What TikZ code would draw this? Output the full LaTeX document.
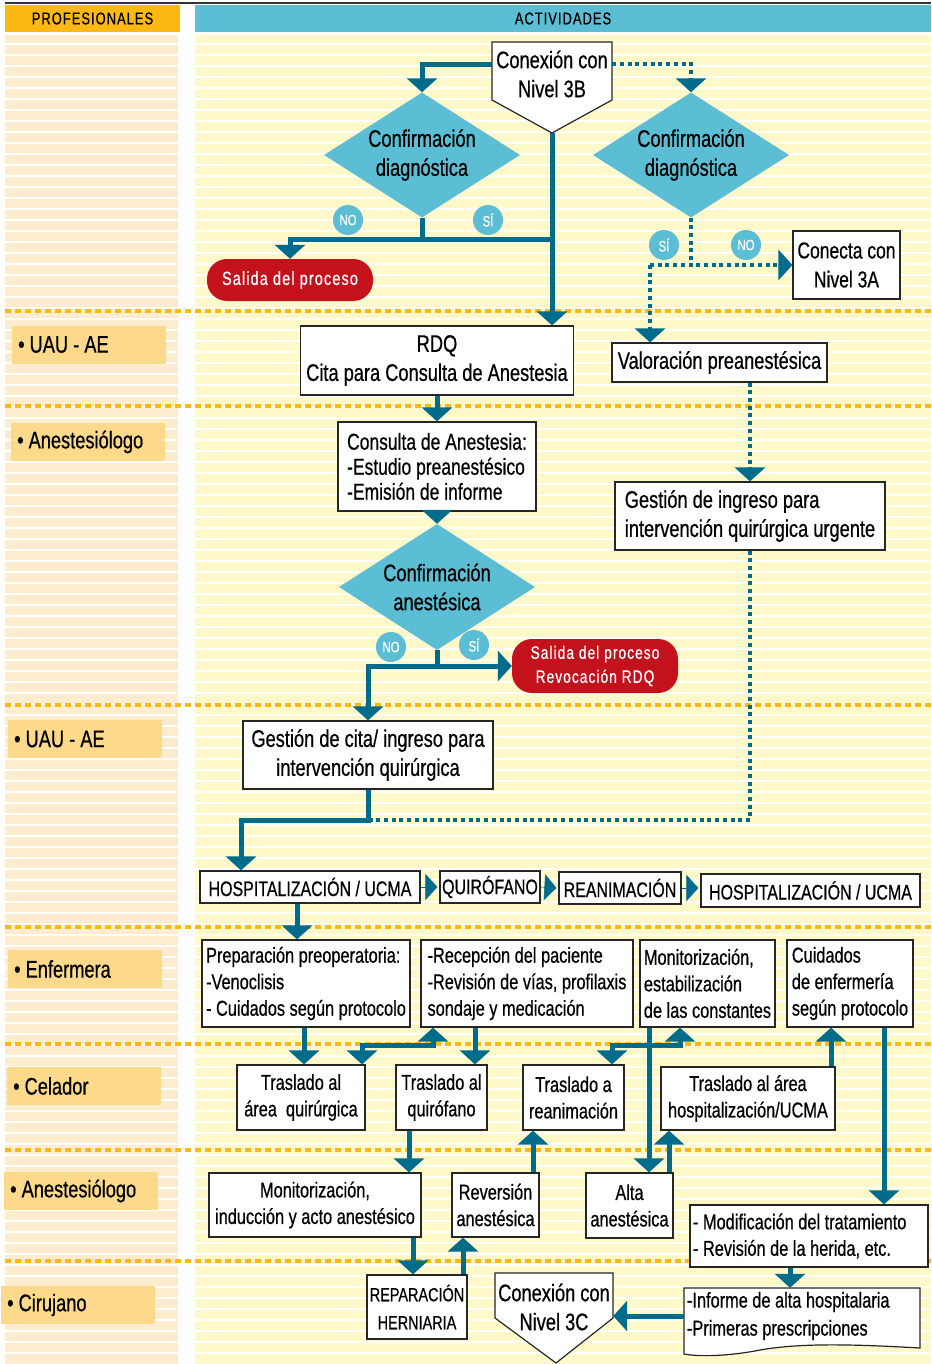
\documentclass[tikz,border=0pt]{standalone}
\usepackage{fontspec}
\setmainfont[FakeStretch=0.76,FakeBold=0.6]{Liberation Sans}
\newfontfamily\spacedfont[FakeStretch=0.76,FakeBold=0.6,LetterSpace=6]{Liberation Sans}
\usetikzlibrary{arrows.meta,shapes.geometric,positioning,calc}

\definecolor{flowteal}{RGB}{0,108,140}
\definecolor{decisioncyan}{RGB}{91,190,213}
\definecolor{exitred}{RGB}{196,18,28}
\definecolor{headgold}{RGB}{253,185,19}
\definecolor{headcyan}{RGB}{91,190,213}
\definecolor{lanepeach}{RGB}{253,236,206}
\definecolor{laneyellow}{RGB}{255,248,200}
\definecolor{rolefill}{RGB}{253,217,140}

\newcommand{\boxfont}{\fontsize{24}{29}\selectfont}
\newcommand{\listfont}{\fontsize{21.5}{26.5}\selectfont}
\newcommand{\rowfont}{\fontsize{21}{25}\selectfont}
\newcommand{\answerfont}{\fontsize{15}{15}\selectfont}
\newcommand{\exitfont}{\spacedfont\fontsize{19}{24}\selectfont}
\newcommand{\laneheadfont}{\spacedfont\fontsize{17}{17}\selectfont}
\newcommand{\rolefont}{\fontsize{24}{24}\selectfont}
\newcommand{\rolelabel}[3]{%
  \node[role] (#1) at (#2) {\textbullet\ #3};
}

\tikzset{
  flowtip/.tip={Triangle[width=30pt,length=14pt]},
  box/.style={draw=black!85, line width=1.2pt, fill=white, inner sep=3pt,
              align=center, font=\boxfont},
  listbox/.style={box, align=flush left, font=\listfont},
  rowbox/.style={box, inner xsep=1pt, minimum height=32pt, font=\rowfont},
  shape line/.style={draw=black!85, line width=1.2pt, fill=white},
  connector text/.style={inner sep=0pt, align=center, font=\boxfont},
  decision/.style={diamond, aspect=1.6, fill=decisioncyan, inner sep=0pt,
                   minimum width=196pt, minimum height=125pt, align=center,
                   font=\boxfont},
  answer/.style={circle, fill=decisioncyan, text=white, minimum size=30pt,
                 inner sep=0pt, font=\answerfont},
  exitbox/.style={fill=exitred, text=white, rounded corners=20pt,
                  minimum width=166pt, align=center, font=\exitfont},
  flow/.style={draw=flowteal, line width=5pt, -flowtip},
  twoway/.style={flow, flowtip-flowtip},
  trunk/.style={draw=flowteal, line width=5pt},
  dotted flow/.style={flow, line width=4pt, dash pattern=on 4pt off 3.7pt},
  dotted trunk/.style={trunk, line width=4pt, dash pattern=on 4pt off 3.7pt},
  row tip/.style={draw=flowteal, line width=0.6pt,
                  -{Triangle[width=26pt,length=12pt]}, shorten >=2pt},
  lanesep/.style={draw=headgold, line width=4.5pt, dash pattern=on 5.5pt off 4.5pt},
  stripe/.style={draw=white, line width=1.6pt},
  headcell/.style={minimum height=27pt, inner sep=0pt, font=\laneheadfont},
  role/.style={fill=rolefill, anchor=west, minimum height=38pt, inner xsep=6pt,
               text width=142pt, align=flush left, font=\rolefont}
}

\begin{document}
\begin{tikzpicture}[x=1pt,y=-1pt]
  \useasboundingbox (0,0) rectangle (931,1364);
  \fill[white] (0,0) rectangle (931,1364);

  % lanes
  \draw[black!80,line width=2.5pt] (5,3) -- (931,3);
  \node[headcell,fill=headgold,minimum width=175pt] (profhead) at (92.5,18.5) {PROFESIONALES};
  \node[headcell,fill=headcyan,minimum width=736pt] (acthead) at (563,18.5) {ACTIVIDADES};
  \fill[lanepeach] (5,35) rectangle (178,1364);
  \fill[laneyellow] (195,35) rectangle (931,1364);
  \foreach \y in {44,55,...,1363} {
    \draw[stripe] (5,\y) -- (178,\y);
    \draw[stripe] (195,\y) -- (931,\y);
  }
  \foreach \y in {311,406,705,927,1044,1150,1261}
    \draw[lanesep] (5,\y) -- (931,\y);

  \rolelabel{uauA}{12,344.5}{UAU - AE}
  \rolelabel{anestA}{11,442}{Anestesiólogo}
  \rolelabel{uauB}{8,739}{UAU - AE}
  \rolelabel{enfer}{8,969}{Enfermera}
  \rolelabel{celad}{7,1086}{Celador}
  \rolelabel{anestB}{4,1191}{Anestesiólogo}
  \rolelabel{ciruj}{1,1305}{Cirujano}

  % nodes
  \filldraw[shape line] (492,42) -- (612,42) -- (612,100) -- (552,133) -- (492,100) -- cycle;
  \node[connector text, minimum width=120pt, minimum height=64pt] (n3b) at (552,74) {Conexión con\\Nivel 3B};
  \coordinate (n3btip) at (552,133);

  \node[decision] (diagA) at (422,155) {Confirmación\\diagnóstica};
  \node[decision] (diagB) at (691,155) {Confirmación\\diagnóstica};
  \node[answer] (noA) at (348,220) {NO};
  \node[answer] (siA) at (488,220) {SÍ};
  \node[answer] (siB) at (664,245) {SÍ};
  \node[answer] (noB) at (746,245) {NO};
  \node[exitbox, minimum height=42pt] (exit1) at (290,280) {Salida del proceso};
  \node[box, inner sep=2pt, font=\fontsize{23}{29}\selectfont, minimum width=107pt, minimum height=68pt] (n3a) at (846.5,265) {Conecta con\\Nivel 3A};

  \node[box, minimum width=273pt, minimum height=69pt] (rdq) at (437,360.5) {RDQ\\Cita para Consulta de Anestesia};
  \node[box, minimum width=215pt, minimum height=39pt] (valor) at (719.5,362.5) {Valoración preanestésica};
  \node[box, align=flush left, font=\fontsize{23}{25}\selectfont, minimum width=198pt, minimum height=89pt] (consulta) at (437,466.5)
    {Consulta de Anestesia:\\-Estudio preanestésico\\-Emisión de informe};
  \node[box, align=flush left, minimum width=270pt, minimum height=68pt] (ingreso) at (750,516)
    {Gestión de ingreso para\\intervención quirúrgica urgente};

  \node[decision, minimum height=126pt] (diagC) at (437,587) {Confirmación\\anestésica};
  \node[answer] (noC) at (391,647) {NO};
  \node[answer] (siC) at (474,645) {SÍ};
  \node[exitbox, font=\spacedfont\fontsize{18}{24}\selectfont, minimum height=54pt] (exit2) at (595,666)
    {Salida del proceso\\Revocación RDQ};

  \node[box, minimum width=250pt, minimum height=68pt] (citabox) at (368,755)
    {Gestión de cita/ ingreso para\\intervención quirúrgica};

  \node[rowbox, minimum width=220pt] (hosp1) at (310,887) {HOSPITALIZACIÓN / UCMA};
  \node[rowbox, minimum width=100pt] (quir) at (490,887) {QUIRÓFANO};
  \node[rowbox, minimum width=122pt] (reanim) at (620,888) {REANIMACIÓN};
  \node[rowbox, minimum width=219pt, minimum height=33pt] (hosp2) at (810.5,890.5) {HOSPITALIZACIÓN / UCMA};

  \node[listbox, inner xsep=2pt, minimum width=208pt, minimum height=87pt] (prep) at (306,983.5)
    {Preparación preoperatoria:\\-Venoclisis\\- Cuidados según protocolo};
  \node[listbox, inner xsep=2pt, minimum width=212pt, minimum height=87pt] (recep) at (527,983.5)
    {-Recepción del paciente\\-Revisión de vías, profilaxis\\sondaje y medicación};
  \node[listbox, inner xsep=2pt, minimum width=135pt, minimum height=87pt] (monit) at (707.5,983.5)
    {Monitorización,\\estabilización\\de las constantes};
  \node[listbox, inner xsep=2pt, minimum width=126pt, minimum height=87pt] (cuid) at (850,983.5)
    {Cuidados\\de enfermería\\según protocolo};

  \node[box, font=\listfont, minimum width=128pt, minimum height=65pt] (tras1) at (301,1097.5) {Traslado al\\área\ \ quirúrgica};
  \node[box, font=\listfont, minimum width=91pt, minimum height=65pt] (tras2) at (441.5,1097.5) {Traslado al\\quirófano};
  \node[box, font=\listfont, minimum width=101pt, minimum height=65pt] (tras3) at (573.5,1097.5) {Traslado a\\reanimación};
  \node[box, font=\listfont, minimum width=174pt, minimum height=63pt] (tras4) at (748,1098.5) {Traslado al área\\hospitalización/UCMA};

  \node[box, font=\listfont, minimum width=212pt, minimum height=64pt] (induc) at (315,1205) {Monitorización,\\inducción y acto anestésico};
  \node[box, font=\listfont, minimum width=87pt, minimum height=64pt] (rever) at (495.5,1205) {Reversión\\anestésica};
  \node[box, font=\listfont, minimum width=87pt, minimum height=65pt] (alta) at (629.5,1205.5) {Alta\\anestésica};
  \node[listbox, text width=232pt, minimum height=62pt] (modif) at (809,1236)
    {- Modificación del tratamiento\\- Revisión de la herida, etc.};

  \node[box, inner xsep=1pt, font=\fontsize{19}{28}\selectfont, minimum width=100pt, minimum height=64pt] (repar) at (417,1307) {REPARACIÓN\\HERNIARIA};
  \filldraw[shape line] (495,1273) -- (613,1273) -- (613,1318) -- (556,1363) -- (495,1318) -- cycle;
  \node[connector text, minimum width=118pt, minimum height=68pt] (n3c) at (554,1307) {Conexión con\\Nivel 3C};
  \filldraw[shape line] (684,1288) -- (920,1288) -- (920,1348)
    .. controls (850,1344) and (800,1343) .. (760,1350)
    .. controls (730,1356) and (700,1357) .. (684,1354) -- cycle;
  \node[inner sep=3pt, align=flush left, font=\fontsize{21.5}{28}\selectfont, text width=230pt, minimum height=56pt] (informe) at (802,1316)
    {-Informe de alta hospitalaria\\-Primeras prescripciones};

  % connectors
  \draw[flow] (n3b.west |- 0,65) -| (diagA.north);
  \draw[dotted flow] (n3b.east |- 0,64) -| (diagB.north);
  \draw[flow] (n3btip) -- (n3btip |- rdq.north);
  \coordinate (joinA) at (552,240);
  \draw[trunk] (diagA.south) -- (diagA.south |- joinA);
  \draw[flow] (joinA) -| (exit1.north);
  \coordinate (splitB) at (650,265);
  \draw[dotted trunk] (diagB.south) -- (diagB.south |- splitB);
  \draw[dotted flow] (splitB) -- (n3a.west);
  \draw[dotted flow] (splitB) -- (splitB |- valor.north);

  \draw[flow] (rdq.south) -- (consulta.north);
  \draw[flow] (consulta.south) -- (diagC.north);
  \coordinate (joinC) at (437,666);
  \draw[trunk] (diagC.south) -- (joinC);
  \draw[flow] (joinC) -- (exit2.west);
  \draw[flow] (joinC) -| (citabox.north);
  \draw[dotted flow] (valor.south -| ingreso.north) -- (ingreso.north);
  \coordinate (bendD) at (241,820);
  \draw[dotted trunk] (ingreso.south) |- (citabox.south |- bendD);
  \draw[flow] (citabox.south) |- (bendD) -- (bendD |- hosp1.north);

  \draw[row tip] (hosp1.east) -- (quir.west);
  \draw[row tip] (quir.east) -- (reanim.west);
  \draw[row tip] (reanim.east) -- (reanim.east -| hosp2.west);

  \draw[flow] (hosp1.south -| 297,0) -- (prep.north -| 297,0);
  \draw[flow] (prep.south -| 304,0) -- (tras1.north -| 304,0);
  \coordinate (bendE) at (433,1045);
  \draw[twoway] (tras1.north -| 362,0) |- (bendE) -- (bendE |- recep.south);
  \draw[flow] (recep.south -| 475,0) -- (tras2.north -| 475,0);
  \coordinate (bendF) at (680,1045);
  \draw[twoway] (tras3.north -| 612,0) |- (bendF) -- (bendF |- monit.south);
  \draw[flow] (monit.south -| 649,0) -- (alta.north -| 649,0);
  \draw[flow] (alta.north -| 669,0) -- (tras4.south -| 669,0);
  \draw[flow] (tras4.north -| 831,0) -- (cuid.south -| 831,0);
  \draw[flow] (cuid.south -| 884,0) -- (modif.north -| 884,0);
  \draw[flow] (tras2.south -| 409,0) -- (induc.north -| 409,0);
  \draw[flow] (rever.north -| 533,0) -- (tras3.south -| 533,0);
  \draw[flow] (induc.south -| 413,0) -- (repar.north -| 413,0);
  \draw[flow] (repar.north -| 463,0) -- (rever.south -| 463,0);
  \draw[flow] (modif.south -| 790,0) -- (informe.north -| 790,0);
  \draw[flow] (informe.west) -- (informe.west -| n3c.east);
\end{tikzpicture}
\end{document}
